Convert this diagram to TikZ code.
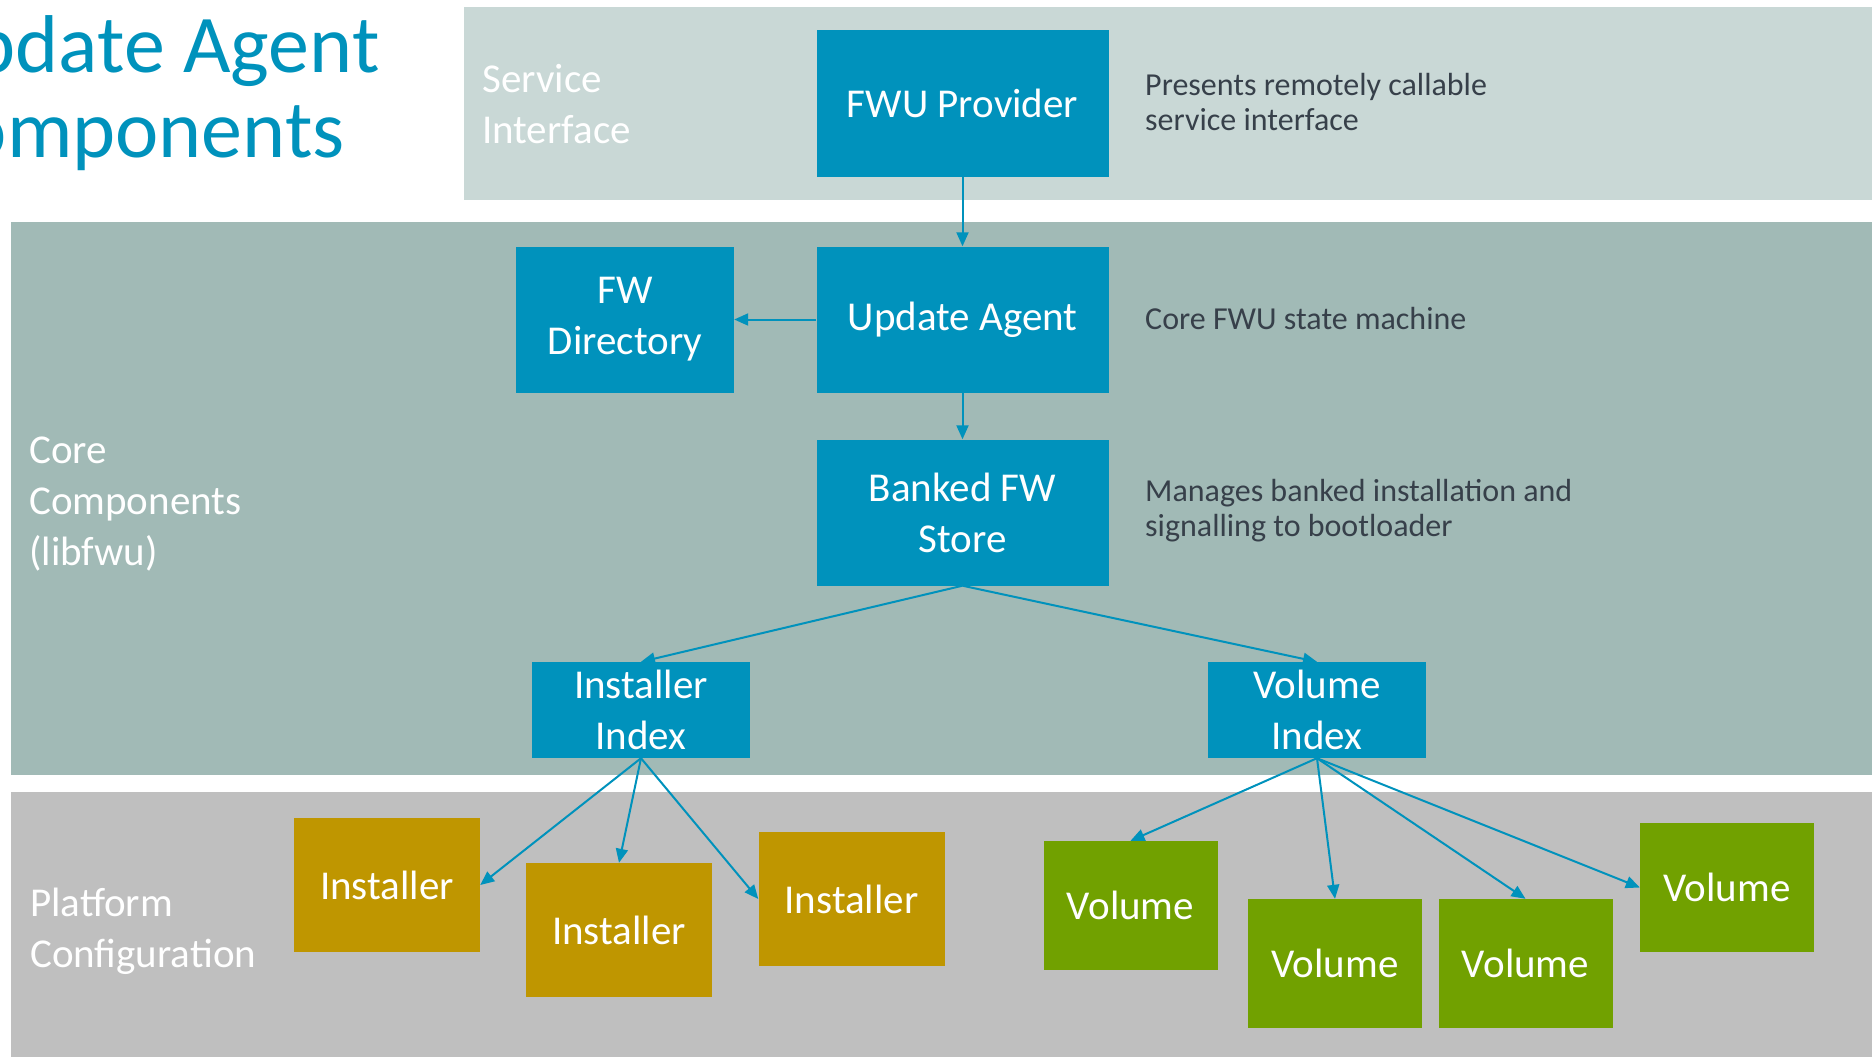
\documentclass[tikz,border=0pt]{standalone}
\usepackage{fontspec}
\setmainfont{Carlito}
\usetikzlibrary{arrows.meta}
\definecolor{fwblue}{RGB}{0,146,188}
\definecolor{svcband}{RGB}{201,216,214}
\definecolor{coreband}{RGB}{161,186,182}
\definecolor{platband}{RGB}{191,191,191}
\definecolor{instgold}{RGB}{191,150,0}
\definecolor{volgreen}{RGB}{113,161,0}
\definecolor{notegray}{RGB}{55,64,74}

\begin{document}
\begin{tikzpicture}[x=1pt,y=-1pt,
  comp/.style={fill=fwblue,text=white,align=center,inner sep=0pt,
    font=\fontsize{41}{51}\selectfont},
  wide/.style={comp,minimum width=292pt,minimum height=146pt},
  idx/.style={comp,minimum width=218pt,minimum height=96pt},
  inst/.style={comp,fill=instgold,minimum width=186pt,minimum height=134pt},
  vol/.style={comp,fill=volgreen,minimum width=174pt,minimum height=129pt},
  layer/.style={anchor=west,align=left,inner sep=0pt,text=white,
    font=\fontsize{41}{51}\selectfont},
  note/.style={anchor=west,align=left,inner sep=0pt,text=notegray,
    font=\fontsize{32}{35}\selectfont},
  link/.style={draw=fwblue,line width=2pt,-{Triangle[length=14pt,width=12pt]}}]
\useasboundingbox (0,0) rectangle (1872,1057);
\fill[svcband] (464,7) rectangle (1872,200);
\fill[coreband] (11,222) rectangle (1872,775);
\fill[platband] (11,792) rectangle (1872,1057);

\node[anchor=base west,align=left,inner sep=0pt,text=fwblue,
  font=\fontsize{82}{85}\selectfont] (title) at (-80,157) {Update Agent\\Components};

\node[layer] (svclbl) at (482,104) {Service\\Interface};
\node[layer] (corelbl) at (29,504) {Core\\Components\\(libfwu)};
\node[layer] (platlbl) at (30,931) {Platform\\Configuration};

\node[wide] (prov) at (962.5,103.5) {FWU Provider};
\node[wide] (agent) at (962.5,319.5) {Update Agent};
\node[comp,minimum width=218pt,minimum height=146pt] (fwdir) at (625,319.5) {FW\\Directory};
\node[wide] (store) at (962.5,512.5) {Banked FW\\Store};
\node[idx] (iidx) at (641,710) {Installer\\Index};
\node[idx] (vidx) at (1317,710) {Volume\\Index};

\node[inst] (inst1) at (387,885) {Installer};
\node[inst] (inst2) at (619,930) {Installer};
\node[inst] (inst3) at (851.5,899) {Installer};

\node[vol] (vol1) at (1130.5,905.5) {Volume};
\node[vol] (vol2) at (1335,963.5) {Volume};
\node[vol] (vol3) at (1525.5,963.5) {Volume};
\node[vol] (vol4) at (1727,887.5) {Volume};

\node[note] (provnote) at (1145,102) {Presents remotely callable\\service interface};
\node[note] (agentnote) at (1145,319) {Core FWU state machine};
\node[note] (storenote) at (1145,511) {Manages banked installation and\\signalling to bootloader};

\draw[link] (prov) -- (agent);
\draw[link] (agent) -- (fwdir);
\draw[link] (agent) -- (store);
\draw[link] (store.south) -- (iidx.north);
\draw[link] (store.south) -- (vidx.north);
\draw[link] (iidx.south) -- (inst1.east);
\draw[link] (iidx.south) -- (inst2.north);
\draw[link] (iidx.south) -- (inst3.west);
\draw[link] (vidx.south) -- (vol1.north);
\draw[link] (vidx.south) -- (vol2.north);
\draw[link] (vidx.south) -- (vol3.north);
\draw[link] (vidx.south) -- (vol4.west);
\end{tikzpicture}
\end{document}
